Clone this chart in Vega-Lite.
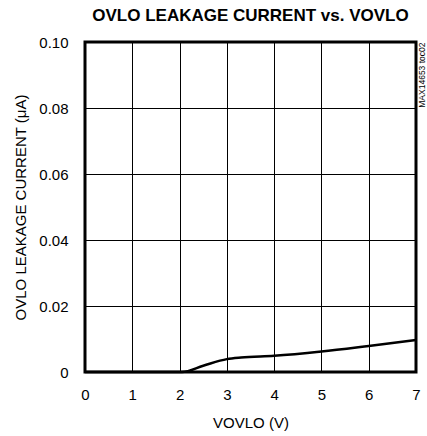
{
  "$schema": "https://vega.github.io/schema/vega-lite/v6.json",
  "width": 331,
  "height": 330,
  "autosize": {"type": "none"},
  "padding": {"left": 85, "top": 42, "right": 11, "bottom": 64},
  "background": "white",
  "title": {
    "text": "OVLO LEAKAGE CURRENT vs. VOVLO",
    "font": "Liberation Sans, Arial",
    "fontSize": 17,
    "fontWeight": "bold",
    "color": "black",
    "anchor": "middle",
    "offset": 10
  },
  "config": {
    "view": {"stroke": "black", "strokeWidth": 3},
    "axis": {
      "labelFont": "Liberation Sans, Arial",
      "titleFont": "Liberation Sans, Arial",
      "labelFontSize": 15,
      "titleFontSize": 15,
      "titleFontWeight": "normal",
      "labelColor": "black",
      "titleColor": "black",
      "gridColor": "black",
      "gridOpacity": 1,
      "gridWidth": 1,
      "domain": false,
      "ticks": false
    }
  },
  "data": {
    "values": [
      {"v": 0, "i": 0},
      {"v": 1, "i": 0},
      {"v": 2.05, "i": 0},
      {"v": 2.5, "i": 0.0019},
      {"v": 3, "i": 0.0039},
      {"v": 3.3, "i": 0.0044},
      {"v": 4, "i": 0.0049},
      {"v": 5, "i": 0.0062},
      {"v": 6, "i": 0.0079},
      {"v": 7, "i": 0.0097}
    ]
  },
  "layer": [
    {
      "mark": {"type": "line", "color": "black", "strokeWidth": 2.5, "interpolate": "monotone"},
      "encoding": {
        "x": {
          "field": "v", "type": "quantitative",
          "scale": {"domain": [0, 7], "nice": false},
          "axis": {"values": [0,1,2,3,4,5,6,7], "title": "VOVLO (V)", "labelPadding": 15, "titlePadding": 13, "labelFlush": false}
        },
        "y": {
          "field": "i", "type": "quantitative",
          "scale": {"domain": [0, 0.1], "nice": false},
          "axis": {
            "values": [0, 0.02, 0.04, 0.06, 0.08, 0.1],
            "labelExpr": "datum.value == 0 ? '0' : format(datum.value, '.2f')",
            "title": "OVLO LEAKAGE CURRENT (μA)",
            "labelPadding": 17,
            "titlePadding": 10,
            "labelFlush": false
          }
        }
      }
    },
    {
      "mark": {"type": "line", "opacity": 0},
      "encoding": {
        "x": {"field": "v", "type": "quantitative"},
        "y": {
          "field": "i", "type": "quantitative",
          "axis": {
            "orient": "right", "labels": false, "grid": false, "ticks": false, "domain": false,
            "title": "MAX14653 toc02", "titleAngle": 270, "titleFontSize": 8.5, "titleAnchor": "end",
            "titleAlign": "right", "titleBaseline": "top", "titlePadding": 1, "titleFont": "Liberation Sans, Arial"
          }
        }
      }
    }
  ],
  "resolve": {"axis": {"y": "independent"}}
}
